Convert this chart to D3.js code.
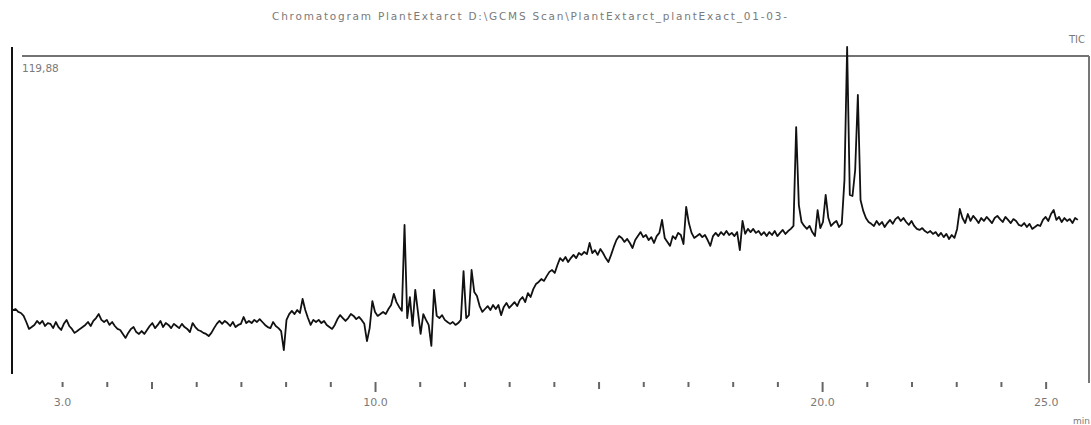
<!DOCTYPE html>
<html>
<head>
<meta charset="utf-8">
<script src="https://cdnjs.cloudflare.com/ajax/libs/d3/7.8.5/d3.min.js"></script>
<style>
  body { margin: 0; background: #fff; }
  text { font-family: "DejaVu Sans", "Liberation Sans", sans-serif; fill: #7a7a7a; }
</style>
</head>
<body>
<div id="chart"></div>
<script>
// retention time of first scan and scan interval (minutes)
const retentionStart = 1.90
const scanInterval = 0.06

// total ion current, one value per scan
const intensities = [
  24.1, 24.5, 23.4, 23.0, 21.9, 19.6, 17.0, 17.7, 18.5, 20.0,
  18.9, 20.0, 18.1, 19.2, 18.9, 17.3, 19.6, 17.7, 16.6, 18.9,
  20.4, 18.1, 17.0, 15.5, 16.2, 17.0, 17.7, 18.5, 19.6, 18.1,
  20.0, 21.1, 22.6, 20.4, 19.6, 20.4, 18.5, 19.6, 18.1, 17.0,
  16.6, 15.1, 13.6, 15.5, 17.0, 17.7, 15.8, 15.1, 16.2, 15.1,
  16.6, 18.1, 19.2, 17.3, 18.5, 20.0, 17.7, 19.2, 18.5, 17.3,
  18.9, 18.1, 17.3, 18.9, 17.7, 17.0, 15.8, 19.2, 17.7, 16.6,
  16.2, 15.5, 15.1, 14.3, 15.5, 17.3, 18.9, 20.0, 18.9, 20.0,
  19.2, 18.1, 19.6, 17.7, 18.5, 18.9, 21.5, 19.2, 20.0, 19.2,
  20.4, 19.6, 20.7, 19.6, 18.5, 17.7, 17.3, 19.6, 18.1, 17.3,
  16.2, 9.0, 20.4, 22.6, 23.8, 22.6, 24.1, 23.0, 28.3, 24.1,
  21.1, 18.5, 20.4, 19.6, 20.4, 19.2, 20.0, 18.5, 17.7, 17.0,
  18.5, 20.7, 22.2, 21.1, 20.0, 21.1, 22.6, 21.9, 20.7, 21.5,
  20.4, 18.9, 12.4, 17.3, 27.5, 23.4, 21.9, 22.6, 23.4, 22.6,
  24.5, 26.0, 30.2, 27.1, 25.3, 23.8, 56.2, 21.1, 29.0, 18.1,
  31.7, 23.4, 15.1, 22.6, 20.4, 18.5, 10.6, 31.7, 21.9, 21.1,
  22.2, 20.4, 19.6, 18.9, 19.6, 18.5, 19.2, 20.4, 38.8, 21.1,
  22.2, 39.2, 30.9, 29.4, 25.6, 23.4, 24.5, 25.6, 24.1, 26.0,
  24.5, 26.0, 22.2, 25.3, 26.8, 24.9, 26.0, 27.1, 25.6, 27.9,
  29.0, 27.1, 30.5, 29.0, 32.0, 33.9, 34.7, 35.8, 35.1, 36.9,
  38.5, 39.2, 38.1, 41.1, 43.7, 42.6, 44.1, 42.2, 43.7, 44.9,
  43.7, 45.6, 44.9, 46.0, 45.2, 49.4, 45.6, 46.7, 44.9, 47.1,
  45.6, 43.7, 42.2, 44.9, 47.9, 50.5, 52.0, 51.3, 49.8, 50.9,
  49.4, 47.5, 50.5, 52.0, 53.5, 51.6, 52.4, 50.5, 51.6, 49.4,
  52.0, 53.2, 58.1, 51.3, 49.8, 48.3, 52.0, 50.9, 53.2, 52.4,
  49.0, 63.0, 56.9, 53.2, 51.3, 52.0, 52.8, 51.6, 52.4, 50.5,
  48.3, 52.0, 53.2, 52.0, 53.5, 52.4, 53.9, 52.4, 53.2, 52.0,
  53.5, 46.7, 57.7, 52.8, 54.7, 53.5, 54.7, 53.2, 53.9, 52.4,
  53.5, 52.0, 53.5, 52.4, 53.9, 52.0, 53.2, 54.3, 52.8, 53.9,
  54.7, 55.8, 93.1, 63.7, 57.3, 55.8, 54.7, 55.8, 53.5, 52.0,
  61.8, 55.0, 57.3, 67.5, 58.8, 55.8, 56.9, 57.7, 55.4, 56.6,
  73.1, 123.3, 67.5, 67.1, 76.9, 105.2, 65.6, 61.5, 58.8, 57.3,
  56.6, 55.8, 57.7, 56.2, 57.3, 55.4, 56.9, 58.1, 56.6, 58.4,
  59.2, 57.7, 58.8, 57.3, 56.2, 57.7, 55.8, 54.7, 54.3, 55.0,
  53.9, 53.2, 53.9, 52.8, 53.5, 52.0, 53.2, 51.6, 52.8, 50.9,
  52.4, 51.3, 54.7, 62.2, 58.8, 56.9, 60.3, 57.7, 59.6, 58.4,
  56.9, 58.8, 57.7, 59.2, 58.1, 56.9, 58.8, 59.6, 58.4, 57.3,
  59.2, 58.1, 56.9, 58.4, 57.7, 56.2, 55.8, 56.9, 55.4, 56.6,
  54.7, 55.4, 56.2, 55.8, 58.1, 59.2, 57.7, 60.3, 61.8, 58.1,
  59.2, 57.3, 58.8, 57.7, 58.4, 56.9, 58.8, 58.1
]

const tickMinutes = d3.range(3, 26)
const labelledMinutes = [3, 10, 20, 25]
const timeRange = [1.88, 25.97]
const maxIntensity = 119.88

const titleText = "Chromatogram PlantExtarct  D:\\GCMS  Scan\\PlantExtarct_plantExact_01-03-"
const traceName = "TIC"

const width = 1091
const height = 425
const plotLeft = 12, plotRight = 1089, plotTop = 56, plotBottom = 374

const svg = d3.select('#chart')
  .append('svg')
  .attr('width', width)
  .attr('height', height)

const x = d3.scaleLinear().domain(timeRange).range([plotLeft, plotRight])
const y = d3.scaleLinear().domain([0, maxIntensity]).range([plotBottom, plotTop])

const scans = intensities.map((v, i) => ({ t: retentionStart + i * scanInterval, v: v }))

// title
svg.append('text')
  .attr('x', 272)
  .attr('y', 20)
  .attr('font-size', 10.5)
  .attr('textLength', 515)
  .attr('lengthAdjust', 'spacing')
  .text(titleText)

svg.append('text')
  .attr('x', 1085)
  .attr('y', 43)
  .attr('text-anchor', 'end')
  .attr('font-size', 10)
  .text(traceName)

// frame
svg.append('line')
  .attr('x1', plotLeft).attr('x2', plotLeft)
  .attr('y1', 47).attr('y2', plotBottom)
  .attr('stroke', '#111').attr('stroke-width', 2)

svg.append('line')
  .attr('x1', 22).attr('x2', plotRight)
  .attr('y1', plotTop).attr('y2', plotTop)
  .attr('stroke', '#444').attr('stroke-width', 1.6)

svg.append('line')
  .attr('x1', plotRight).attr('x2', plotRight)
  .attr('y1', plotTop).attr('y2', 383)
  .attr('stroke', '#777').attr('stroke-width', 2)

svg.append('text')
  .attr('x', 22)
  .attr('y', 72)
  .attr('font-size', 10.5)
  .text(d3.format('.2f')(maxIntensity).replace('.', ','))

// time axis
const xAxis = d3.axisBottom(x)
  .tickValues(tickMinutes)
  .tickSize(5)
  .tickFormat(d => labelledMinutes.includes(d) ? d3.format('.1f')(d) : '')

const xAxisG = svg.append('g')
  .attr('transform', 'translate(0,382)')
  .call(xAxis)

xAxisG.select('.domain').remove()
xAxisG.selectAll('.tick line')
  .attr('stroke', '#666')
  .attr('stroke-width', 2)
  .attr('y2', d => d % 10 === 0 ? 10 : (d % 5 === 0 ? 7 : 5))
xAxisG.selectAll('.tick text')
  .attr('y', 16)
  .attr('font-size', 11)
  .attr('fill', '#7a7a7a')
  .style('font-family', '"DejaVu Sans", sans-serif')

svg.append('text')
  .attr('x', 1090)
  .attr('y', 424)
  .attr('text-anchor', 'end')
  .attr('font-size', 9)
  .text('min')

// trace
const line = d3.line()
  .x(d => x(d.t))
  .y(d => y(d.v))

svg.append('path')
  .datum(scans)
  .attr('fill', 'none')
  .attr('stroke', '#111')
  .attr('stroke-width', 1.8)
  .attr('stroke-linejoin', 'round')
  .attr('d', line)
</script>
</body>
</html>
